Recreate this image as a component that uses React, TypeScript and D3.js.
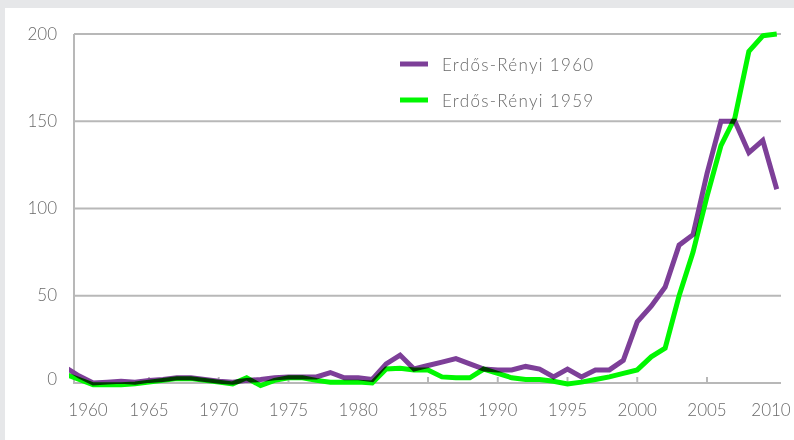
import React from "react";
import * as d3 from "d3";

const years: number[] = [
  1959, 1960, 1961, 1962, 1963, 1964, 1965, 1966, 1967, 1968, 1969,
  1970, 1971, 1972, 1973, 1974, 1975, 1976, 1977, 1978, 1979,
  1980, 1981, 1982, 1983, 1984, 1985, 1986, 1987, 1988, 1989,
  1990, 1991, 1992, 1993, 1994, 1995, 1996, 1997, 1998, 1999,
  2000, 2001, 2002, 2003, 2004, 2005, 2006, 2007, 2008, 2009, 2010,
];

// Erdős-Rényi 1960 (purple)
const er1960: number[] = [
  9, 4, 0, 0.5, 1, 0.5, 1.5, 2, 3, 3, 2,
  1, 0.5, 1.5, 2, 3, 3.5, 3.5, 3.5, 6, 3,
  3, 2, 11, 16, 8, 10, 12, 14, 11, 8,
  7.5, 7.5, 9.5, 8, 3.5, 8, 3.5, 7.5, 7.5, 13,
  35, 44, 55, 79, 85, 120, 150, 150, 132, 139, 111,
];

// Erdős-Rényi 1959 (green)
const er1959: number[] = [
  5, 2, -1, -1, -1, -0.5, 0.5, 1.5, 2.5, 2.5, 1.5,
  0.5, -0.5, 3, -1.5, 1.5, 3, 3, 1.5, 0.5, 0.5,
  0.5, 0, 8, 8.5, 7.5, 7.5, 3.5, 3, 3, 8,
  5.5, 3, 2, 2, 1, -0.5, 0.5, 2, 3.5, 5.5,
  7.5, 15, 20, 50, 75, 107, 136, 152, 190, 199, 200,
];

const yTicks: number[] = [0, 50, 100, 150, 200];
const xLabelYears: number[] = [1960, 1965, 1970, 1975, 1980, 1985, 1990, 1995, 2000, 2005, 2010];
const xTickYears: number[] = [1965, 1970, 1975, 1980, 1985, 1990, 1995, 2000, 2005];

const seriesNames: string[] = ["Erdős-Rényi 1960", "Erdős-Rényi 1959"];
const seriesColors: string[] = ["#7d3f98", "#00f700"];

export default function App() {
  const W = 794;
  const H = 440;
  const plotLeft = 74;
  const plotRight = 781;
  const x = d3.scaleLinear().domain([1965, 2005]).range([149, 707]);
  const y = d3.scaleLinear().domain([0, 200]).range([383, 34]);

  const font = "Lato, 'Open Sans', sans-serif";
  const textColor = "#6a6a6a";
  const gridColor = "#b8b8b8";

  const line = d3
    .line<number>()
    .x((_, i) => x(years[i]))
    .y((d) => y(d));

  const series = [er1960, er1959];

  const labelX = (t: number) => Math.min(Math.max(x(t), plotLeft + 14), W - 23);

  return (
    <svg
      width={W}
      height={H}
      style={{ position: "absolute", left: 0, top: 0, display: "block" }}
    >
      <defs>
        <clipPath id="plotClip">
          <rect x={69} y={0} width={plotRight - 69 + 5} height={H} />
        </clipPath>
      </defs>
      <rect x={0} y={0} width={W} height={H} fill="#e6e7e9" />
      <rect x={5} y={8} width={W - 5} height={H - 8} fill="#ffffff" />

      {/* gridlines */}
      {yTicks.map((t) => (
        <line
          key={"g" + t}
          x1={plotLeft}
          x2={plotRight}
          y1={y(t)}
          y2={y(t)}
          stroke={gridColor}
          strokeWidth={2}
        />
      ))}
      {/* y axis line */}
      <line x1={plotLeft} x2={plotLeft} y1={y(200)} y2={y(0) + 1} stroke={gridColor} strokeWidth={2} />
      {/* x ticks (inward) */}
      {xTickYears.map((t) => (
        <line
          key={"t" + t}
          x1={x(t)}
          x2={x(t)}
          y1={y(0)}
          y2={y(0) - 6}
          stroke={gridColor}
          strokeWidth={2}
        />
      ))}

      {/* y labels */}
      {yTicks.map((t) => (
        <text
          key={"yl" + t}
          x={57}
          y={y(t) - (t === 0 ? 5 : 1)}
          textAnchor="end"
          dominantBaseline="central"
          fontFamily={font}
          fontWeight={300}
          fontSize={17}
          fill={textColor}
        >
          {t}
        </text>
      ))}
      {/* x labels */}
      {xLabelYears.map((t) => (
        <text
          key={"xl" + t}
          x={labelX(t)}
          y={409}
          textAnchor="middle"
          dominantBaseline="central"
          fontFamily={font}
          fontWeight={300}
          fontSize={17}
          fill={textColor}
        >
          {t}
        </text>
      ))}

      {/* series */}
      <g clipPath="url(#plotClip)" style={{ isolation: "isolate" }}>
        {series.map((s, i) => (
          <path
            key={"s" + i}
            d={line(s) || ""}
            fill="none"
            stroke={seriesColors[i]}
            strokeWidth={5}
            strokeLinejoin="miter"
            style={{ mixBlendMode: "multiply" }}
          />
        ))}
      </g>

      {/* legend */}
      {seriesNames.map((name, i) => (
        <g key={"lg" + i} transform={`translate(400, ${64 + i * 36})`}>
          <line x1={0} x2={28} y1={0} y2={0} stroke={seriesColors[i]} strokeWidth={5} />
          <text
            x={42}
            y={0}
            dominantBaseline="central"
            fontFamily={font}
            fontWeight={300}
            fontSize={17}
            letterSpacing={1.3}
            fill={textColor}
          >
            {name}
          </text>
        </g>
      ))}
    </svg>
  );
}
